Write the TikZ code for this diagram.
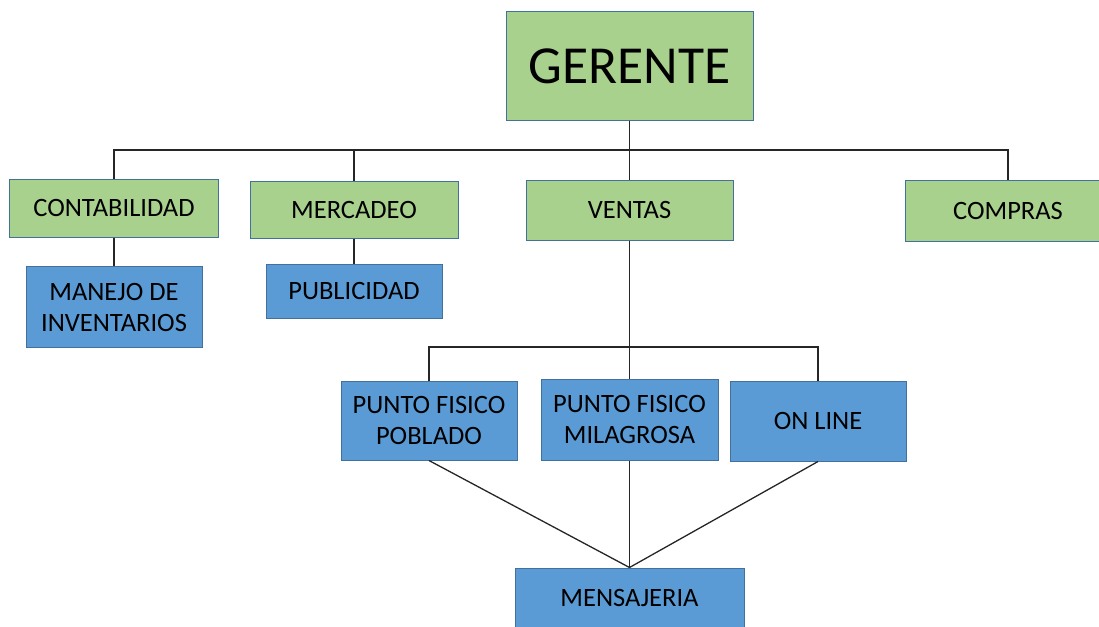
\documentclass[tikz,border=0pt]{standalone}
\usepackage{fontspec}
\setmainfont{Carlito}
\definecolor{gfill}{HTML}{A9D18E}
\definecolor{bfill}{HTML}{5B9BD5}
\definecolor{bord}{HTML}{41719C}
\definecolor{conn}{HTML}{262626}
\begin{document}
\begin{tikzpicture}[x=1pt,y=-1pt,
  box/.style={draw=bord,line width=1pt,inner sep=0pt,align=center,text=black,
    font=\fontsize{26.5}{31}\selectfont},
  gbox/.style={box,fill=gfill},
  bbox/.style={box,fill=bfill},
  link/.style={draw=conn,line width=1.3pt}]
\useasboundingbox (0,0) rectangle (1099,626);
\node[gbox,minimum width=247pt,minimum height=108pt,font=\fontsize{53.5}{60}\selectfont] (ger) at (629.5,66) {GERENTE};
\node[gbox,minimum width=209pt,minimum height=58pt] (cont) at (114,208) {CONTABILIDAD};
\node[gbox,minimum width=208pt,minimum height=57pt] (merc) at (354,209.5) {MERCADEO};
\node[gbox,minimum width=207pt,minimum height=60pt] (vent) at (629.5,210) {VENTAS};
\node[gbox,minimum width=206pt,minimum height=61pt] (comp) at (1008,211) {COMPRAS};
\node[bbox,minimum width=176pt,minimum height=81pt] (man) at (114,307) {MANEJO DE\\INVENTARIOS};
\node[bbox,minimum width=176pt,minimum height=54pt] (pub) at (354,291) {PUBLICIDAD};
\node[bbox,minimum width=176pt,minimum height=79pt] (pob) at (429,420.5) {PUNTO FISICO\\POBLADO};
\node[bbox,minimum width=177pt,minimum height=81pt] (mil) at (629.5,419.5) {PUNTO FISICO\\MILAGROSA};
\node[bbox,minimum width=176pt,minimum height=80pt] (onl) at (818,421) {ON LINE};
\node[bbox,minimum width=229pt,minimum height=60pt] (mens) at (629.5,598) {MENSAJERIA};
\coordinate (b) at (629.5,150);
\coordinate (vb) at (629.5,347);
\draw[link] (ger.south) -- (b);
\draw[link] (cont.north) |- (b) -| (comp.north);
\draw[link] (merc.north) -- (merc.north |- b);
\draw[link] (vent.north) -- (b);
\draw[link] (cont.south) -- (man.north);
\draw[link] (merc.south) -- (pub.north);
\draw[link] (vent.south) -- (mil.north);
\draw[link] (pob.north) |- (vb) -| (onl.north);
\draw[link] (pob.south) -- (mens.north);
\draw[link] (mil.south) -- (mens.north);
\draw[link] (onl.south) -- (mens.north);
\end{tikzpicture}
\end{document}
